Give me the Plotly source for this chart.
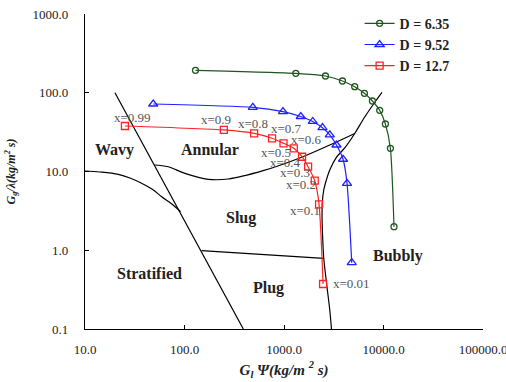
import numpy as np
import plotly.graph_objects as go

# ---- data ----
x_labels = ["x=0.99", "x=0.9", "x=0.8", "x=0.7", "x=0.6", "x=0.5", "x=0.4", "x=0.3", "x=0.2", "x=0.1", "x=0.01"]

d635_x = [129, 1314, 2610, 3867, 5137, 6430, 7738, 9159, 10446, 11730, 12750]
d635_y = [192.8, 176.6, 163.2, 141.0, 119.4, 98.4, 78.6, 59.8, 40.1, 19.7, 1.99]

d952_x = [48.5, 486, 977, 1475, 1945, 2435, 2884, 3365, 3922, 4300, 4795]
d952_y = [72.0, 65.3, 57.5, 49.9, 43.2, 36.0, 29.2, 21.7, 14.3, 7.08, 0.695]

d127_x = [25.2, 248.6, 501, 759, 989, 1254, 1520, 1746, 2037, 2251, 2470]
d127_y = [37.8, 33.7, 30.5, 26.4, 22.8, 19.7, 15.4, 11.5, 7.64, 3.83, 0.373]

# flow pattern boundaries
bA_x = [20.0, 390.0]
bA_y = [100.0, 0.1]
bB_x = [10.0, 14.1, 21.6, 28.3, 37.1, 47.1, 58.9, 74.7, 91.4]
bB_y = [10.15, 9.86, 9.2, 8.27, 7.08, 6.0, 4.79, 3.87, 3.09]
bC_x = [49.3, 68.6, 101, 173, 275, 617, 1335, 2884, 5140]
bC_y = [12.1, 11.5, 9.48, 7.96, 8.03, 10.24, 14.3, 21.7, 30.4]
bD_x = [148.5, 2509]
bD_y = [0.987, 0.79]
bE_x = [9660, 8488, 6472, 5140, 4077, 3388, 2884, 2628, 2509, 2424, 2413, 2452, 2509, 2690, 2884, 3000]
bE_y = [101, 80.9, 49.2, 30.4, 19.9, 15.3, 10.45, 7.36, 5.82, 3.98, 2.64, 1.35, 0.79, 0.362, 0.174, 0.1]

regime_names = ["Wavy", "Annular", "Slug", "Stratified", "Plug", "Bubbly"]
regime_x = [20.0, 180.0, 368.0, 45.0, 704.0, 13890.0]
regime_y = [18.75, 19.3, 2.57, 0.5, 0.332, 0.845]

x_ticks = [10, 100, 1000, 10000, 100000]
x_ticktext = ["10.0", "100.0", "1000.0", "10000.0", "100000.0"]
y_ticks = [0.1, 1, 10, 100, 1000]
y_ticktext = ["0.1", "1.0", "10.0", "100.0", "1000.0"]

# label offsets (pixels) relative to the D=12.7 points
lbl_dx = [8, -8, -1, 14, 23, -18, -17, -13, -14, -14, 28]
lbl_dy = [9, 10, 10, 10, 4, -4, -6, -6, -4, -6, 0]

SERIF = "Liberation Serif"

fig = go.Figure()

for bx, by, sm in [(bA_x, bA_y, 0), (bB_x, bB_y, 1.0), (bC_x, bC_y, 1.0), (bD_x, bD_y, 0), (bE_x, bE_y, 0.8)]:
    fig.add_trace(go.Scatter(x=bx, y=by, mode="lines", showlegend=False, hoverinfo="skip",
                             line=dict(color="black", width=1.2, shape="spline" if sm else "linear",
                                       smoothing=sm if sm else None)))

series = [
    ("D = 6.35", d635_x, d635_y, "#1f561f", "circle-open", 6),
    ("D = 9.52", d952_x, d952_y, "#2020ff", "triangle-up-open", 8),
    ("D = 12.7", d127_x, d127_y, "#ff2020", "square-open", 7),
]
for name, xs, ys, col, sym, sz in series:
    fig.add_trace(go.Scatter(x=xs, y=ys, mode="lines+markers", name=name,
                             line=dict(color=col, width=1.2, shape="spline", smoothing=0.6),
                             marker=dict(symbol=sym, size=sz, color=col, line=dict(color=col, width=1.3))))

annotations = []
for lab, xv, yv, dx, dy in zip(x_labels, d127_x, d127_y, lbl_dx, lbl_dy):
    annotations.append(dict(x=np.log10(xv), y=np.log10(yv), text=lab, showarrow=False,
                            xshift=dx, yshift=dy, font=dict(family=SERIF, size=13, color="#555555")))
for nm, xv, yv in zip(regime_names, regime_x, regime_y):
    annotations.append(dict(x=np.log10(xv), y=np.log10(yv), text="<b>%s</b>" % nm, showarrow=False,
                            font=dict(family=SERIF, size=16, color="#222222")))

fig.update_layout(
    width=506, height=382,
    margin=dict(l=85, r=23, t=14, b=53, autoexpand=False),
    paper_bgcolor="white", plot_bgcolor="white",
    font=dict(family=SERIF, size=13, color="#222222"),
    annotations=annotations,
    legend=dict(x=0.69, y=1.02, xanchor="left", yanchor="top", bgcolor="rgba(0,0,0,0)",
                font=dict(family=SERIF, size=14, color="#222222", weight="bold"),
                itemwidth=30, tracegroupgap=0),
    xaxis=dict(type="log", range=[1, 5], tickvals=x_ticks, ticktext=x_ticktext,
               showgrid=False, zeroline=False, showline=True, linecolor="black", linewidth=1.2,
               ticks="inside", ticklen=4, tickcolor="black", ticklabelstandoff=8,
               ticklabeloverflow="allow",
               tickfont=dict(family=SERIF, size=13, color="#222222"),
               title=dict(text="<b><i>G<sub>l</sub> Ψ(kg/m <sup>2</sup> s)</i></b>", standoff=8,
                          font=dict(family=SERIF, size=15, color="#222222"))),
    yaxis=dict(type="log", range=[-1, 3], tickvals=y_ticks, ticktext=y_ticktext,
               showgrid=False, zeroline=False, showline=True, linecolor="black", linewidth=1.2,
               ticks="inside", ticklen=4, tickcolor="black", ticklabelstandoff=13,
               tickfont=dict(family=SERIF, size=13, color="#222222"),
               title=dict(text="<b><i>G<sub>g</sub>/λ(kg/m<sup>2</sup> s)</i></b>", standoff=14,
                          font=dict(family=SERIF, size=12, color="#222222"))),
)

fig.write_html("out.html")
